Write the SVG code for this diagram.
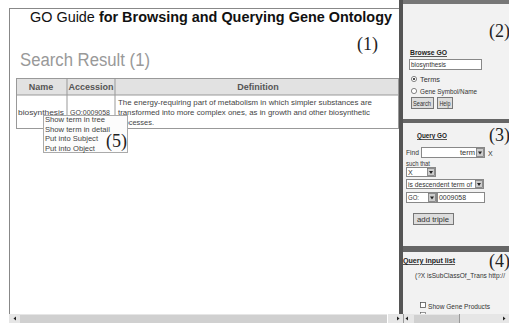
<svg xmlns="http://www.w3.org/2000/svg" width="509" height="323" viewBox="0 0 509 323">
<style>
.s{font-family:"Liberation Sans",Arial,sans-serif;}
.n{font-family:"Liberation Serif","Times New Roman",serif;font-size:18px;fill:#222;}
.sm{font-family:"Liberation Sans",Arial,sans-serif;font-size:7px;fill:#333;}
.lk{font-family:"Liberation Sans",Arial,sans-serif;font-size:7.5px;font-weight:bold;fill:#222;text-decoration:underline;}
.tb{font-family:"Liberation Sans",Arial,sans-serif;font-size:8px;fill:#444;}
.box{fill:#fff;stroke:#888;stroke-width:1;}
.btn{fill:#ddd;stroke:#777;stroke-width:1;}
.dd{fill:#ccc;stroke:#777;stroke-width:0.8;}
.band{fill:#666;}
</style>
<rect width="509" height="323" fill="#fff"/>
<!-- left panel -->
<g id="left-panel">
<rect x="9.5" y="8.5" width="390" height="310" fill="#fff" stroke="#888"/>
<text class="s" x="30" y="22" font-size="14" fill="#111" textLength="362" lengthAdjust="spacingAndGlyphs">GO Guide <tspan font-weight="bold">for Browsing and Querying Gene Ontology</tspan></text>
<text class="n" x="357" y="50">(1)</text>
<text class="s" x="20" y="66" font-size="18" fill="#999" textLength="130" lengthAdjust="spacingAndGlyphs">Search Result (1)</text>
</g>
<g id="result-table">
<rect x="16.5" y="78.5" width="382" height="50" fill="#fff" stroke="#999"/>
<rect x="17" y="79" width="381" height="16" fill="#e2e2e2"/>
<line x1="16.5" y1="95" x2="398.5" y2="95" stroke="#999"/>
<line x1="67" y1="78.5" x2="67" y2="128.5" stroke="#999"/>
<line x1="115" y1="78.5" x2="115" y2="128.5" stroke="#999"/>
<text class="s" x="41" y="90" font-size="9" font-weight="bold" fill="#555" text-anchor="middle">Name</text>
<text class="s" x="91" y="90" font-size="9" font-weight="bold" fill="#555" text-anchor="middle">Accession</text>
<text class="s" x="258" y="90" font-size="9" font-weight="bold" fill="#555" text-anchor="middle">Definition</text>
<text class="tb" x="18" y="114.5" textLength="46" lengthAdjust="spacingAndGlyphs">biosynthesis</text>
<text class="tb" x="70" y="114.5" fill="#666" text-decoration="underline" textLength="40" lengthAdjust="spacingAndGlyphs">GO:0009058</text>
<text class="tb" x="118" y="105" textLength="254" lengthAdjust="spacingAndGlyphs">The energy-requiring part of metabolism in which simpler substances are</text>
<text class="tb" x="118" y="115" textLength="252" lengthAdjust="spacingAndGlyphs">transformed into more complex ones, as in growth and other biosynthetic</text>
<text class="tb" x="118" y="125" textLength="36" lengthAdjust="spacingAndGlyphs">processes.</text>
</g>
<g id="popup-menu">
<rect x="43.5" y="115.5" width="84" height="37" fill="#fcfcfc" stroke="#aaa"/>
<text class="tb" x="45" y="122" textLength="60" lengthAdjust="spacingAndGlyphs">Show term in tree</text>
<text class="tb" x="45" y="131.5" textLength="65" lengthAdjust="spacingAndGlyphs">Show term in detail</text>
<text class="tb" x="45" y="141" textLength="53" lengthAdjust="spacingAndGlyphs">Put into Subject</text>
<text class="tb" x="45" y="150.5" textLength="50" lengthAdjust="spacingAndGlyphs">Put into Object</text>
<text class="n" x="106" y="147">(5)</text>
</g>
<!-- divider -->
<rect x="399" y="0" width="4" height="314" fill="#555"/>
<!-- right panel -->
<g id="right-panel">
<rect x="403" y="0" width="106" height="314" fill="#f2f2f2"/>
<rect x="403" y="0" width="106" height="4" fill="#777"/>
<rect x="403" y="119" width="106" height="4" class="band"/>
<rect x="403" y="246" width="106" height="6" class="band"/>
</g>
<g id="browse-go">
<text class="n" x="489" y="37">(2)</text>
<text class="lk" x="410" y="55" textLength="37" lengthAdjust="spacingAndGlyphs">Browse GO</text>
<rect x="409.5" y="59.5" width="72" height="10" class="box"/>
<text class="sm" x="411" y="67" textLength="35" lengthAdjust="spacingAndGlyphs">biosynthesis</text>
<circle cx="414" cy="79" r="2.6" fill="#fff" stroke="#666" stroke-width="0.8"/>
<circle cx="414" cy="79" r="1.1" fill="#222"/>
<text class="sm" x="420" y="82" textLength="20" lengthAdjust="spacingAndGlyphs">Terms</text>
<circle cx="414" cy="91" r="2.6" fill="#fff" stroke="#666" stroke-width="0.8"/>
<text class="sm" x="420" y="94" textLength="57" lengthAdjust="spacingAndGlyphs">Gene Symbol/Name</text>
<rect x="411.5" y="97.5" width="22" height="11" class="btn"/>
<text class="sm" x="413" y="105.5" textLength="18" lengthAdjust="spacingAndGlyphs">Search</text>
<rect x="437.5" y="97.5" width="15" height="11" class="btn"/>
<text class="sm" x="439.5" y="105.5" textLength="11" lengthAdjust="spacingAndGlyphs">Help</text>
</g>
<g id="query-go">
<text class="n" x="489" y="141">(3)</text>
<text class="lk" x="417" y="138" textLength="30" lengthAdjust="spacingAndGlyphs">Query GO</text>
<text class="sm" x="406" y="155" textLength="13" lengthAdjust="spacingAndGlyphs">Find</text>
<rect x="421.5" y="147.5" width="63" height="10" class="box"/>
<text class="sm" x="460" y="155" textLength="15" lengthAdjust="spacingAndGlyphs">term</text>
<rect x="476.5" y="148.5" width="7" height="8" class="dd"/>
<path d="M478 151.5h4l-2 3z" fill="#222"/>
<text class="sm" x="488" y="156">X</text>
<text class="sm" x="406" y="166" textLength="24" lengthAdjust="spacingAndGlyphs">such that</text>
<rect x="406.5" y="167.5" width="29" height="9" class="box"/>
<text class="sm" x="408" y="174.5">X</text>
<rect x="427.5" y="168.5" width="7" height="7" class="dd"/>
<path d="M429 171h4l-2 3z" fill="#222"/>
<rect x="406.5" y="179.5" width="77" height="9" class="box"/>
<text class="sm" x="408" y="186.5" textLength="64" lengthAdjust="spacingAndGlyphs">is descendent term of</text>
<rect x="475.5" y="180.5" width="7" height="7" class="dd"/>
<path d="M477 183h4l-2 3z" fill="#222"/>
<rect x="406.5" y="192.5" width="30" height="10" class="box"/>
<text class="sm" x="408" y="200" textLength="11" lengthAdjust="spacingAndGlyphs">GO:</text>
<rect x="428.5" y="193.5" width="7" height="8" class="dd"/>
<path d="M430 196.5h4l-2 3z" fill="#222"/>
<rect x="437.5" y="192.5" width="47" height="10" class="box"/>
<text class="sm" x="439" y="200" textLength="27" lengthAdjust="spacingAndGlyphs">0009058</text>
<rect x="413.5" y="213.5" width="40" height="11" class="btn"/>
<text class="sm" x="417" y="221.5" textLength="32" lengthAdjust="spacingAndGlyphs">add triple</text>
</g>
<g id="query-input-list">
<text class="n" x="489" y="267">(4)</text>
<text class="lk" x="403" y="263" textLength="52" lengthAdjust="spacingAndGlyphs">Query input list</text>
<text class="sm" x="415" y="278" textLength="90" lengthAdjust="spacingAndGlyphs">(?X isSubClassOf_Trans http://</text>
<rect x="420.5" y="302.5" width="5" height="5" fill="#fff" stroke="#555" stroke-width="0.8"/>
<text class="sm" x="428" y="309" textLength="62" lengthAdjust="spacingAndGlyphs">Show Gene Products</text>
<rect x="420.5" y="312.5" width="5" height="2" fill="#fff" stroke="#555" stroke-width="0.6"/>
</g>
<!-- scrollbars -->
<g id="scrollbars">
<rect x="9" y="314" width="500" height="9" fill="#e6e6e6"/>
<rect x="20" y="315" width="367" height="8" fill="#d0d0d0"/>
<line x1="387.5" y1="314" x2="387.5" y2="323" stroke="#fff"/>
<path d="M16 316.5v4l-2.5-2z" fill="#222"/>
<path d="M397 316.5v4l2.5-2z" fill="#222"/>
<line x1="403.5" y1="314" x2="403.5" y2="323" stroke="#999"/>
<path d="M408 316.5v4l-2.5-2z" fill="#222"/>
<rect x="414" y="315" width="45" height="8" fill="#d0d0d0"/>
<line x1="459.5" y1="314" x2="459.5" y2="323" stroke="#999"/>
<path d="M503 316.5v4l2.5-2z" fill="#222"/>
</g>
</svg>
